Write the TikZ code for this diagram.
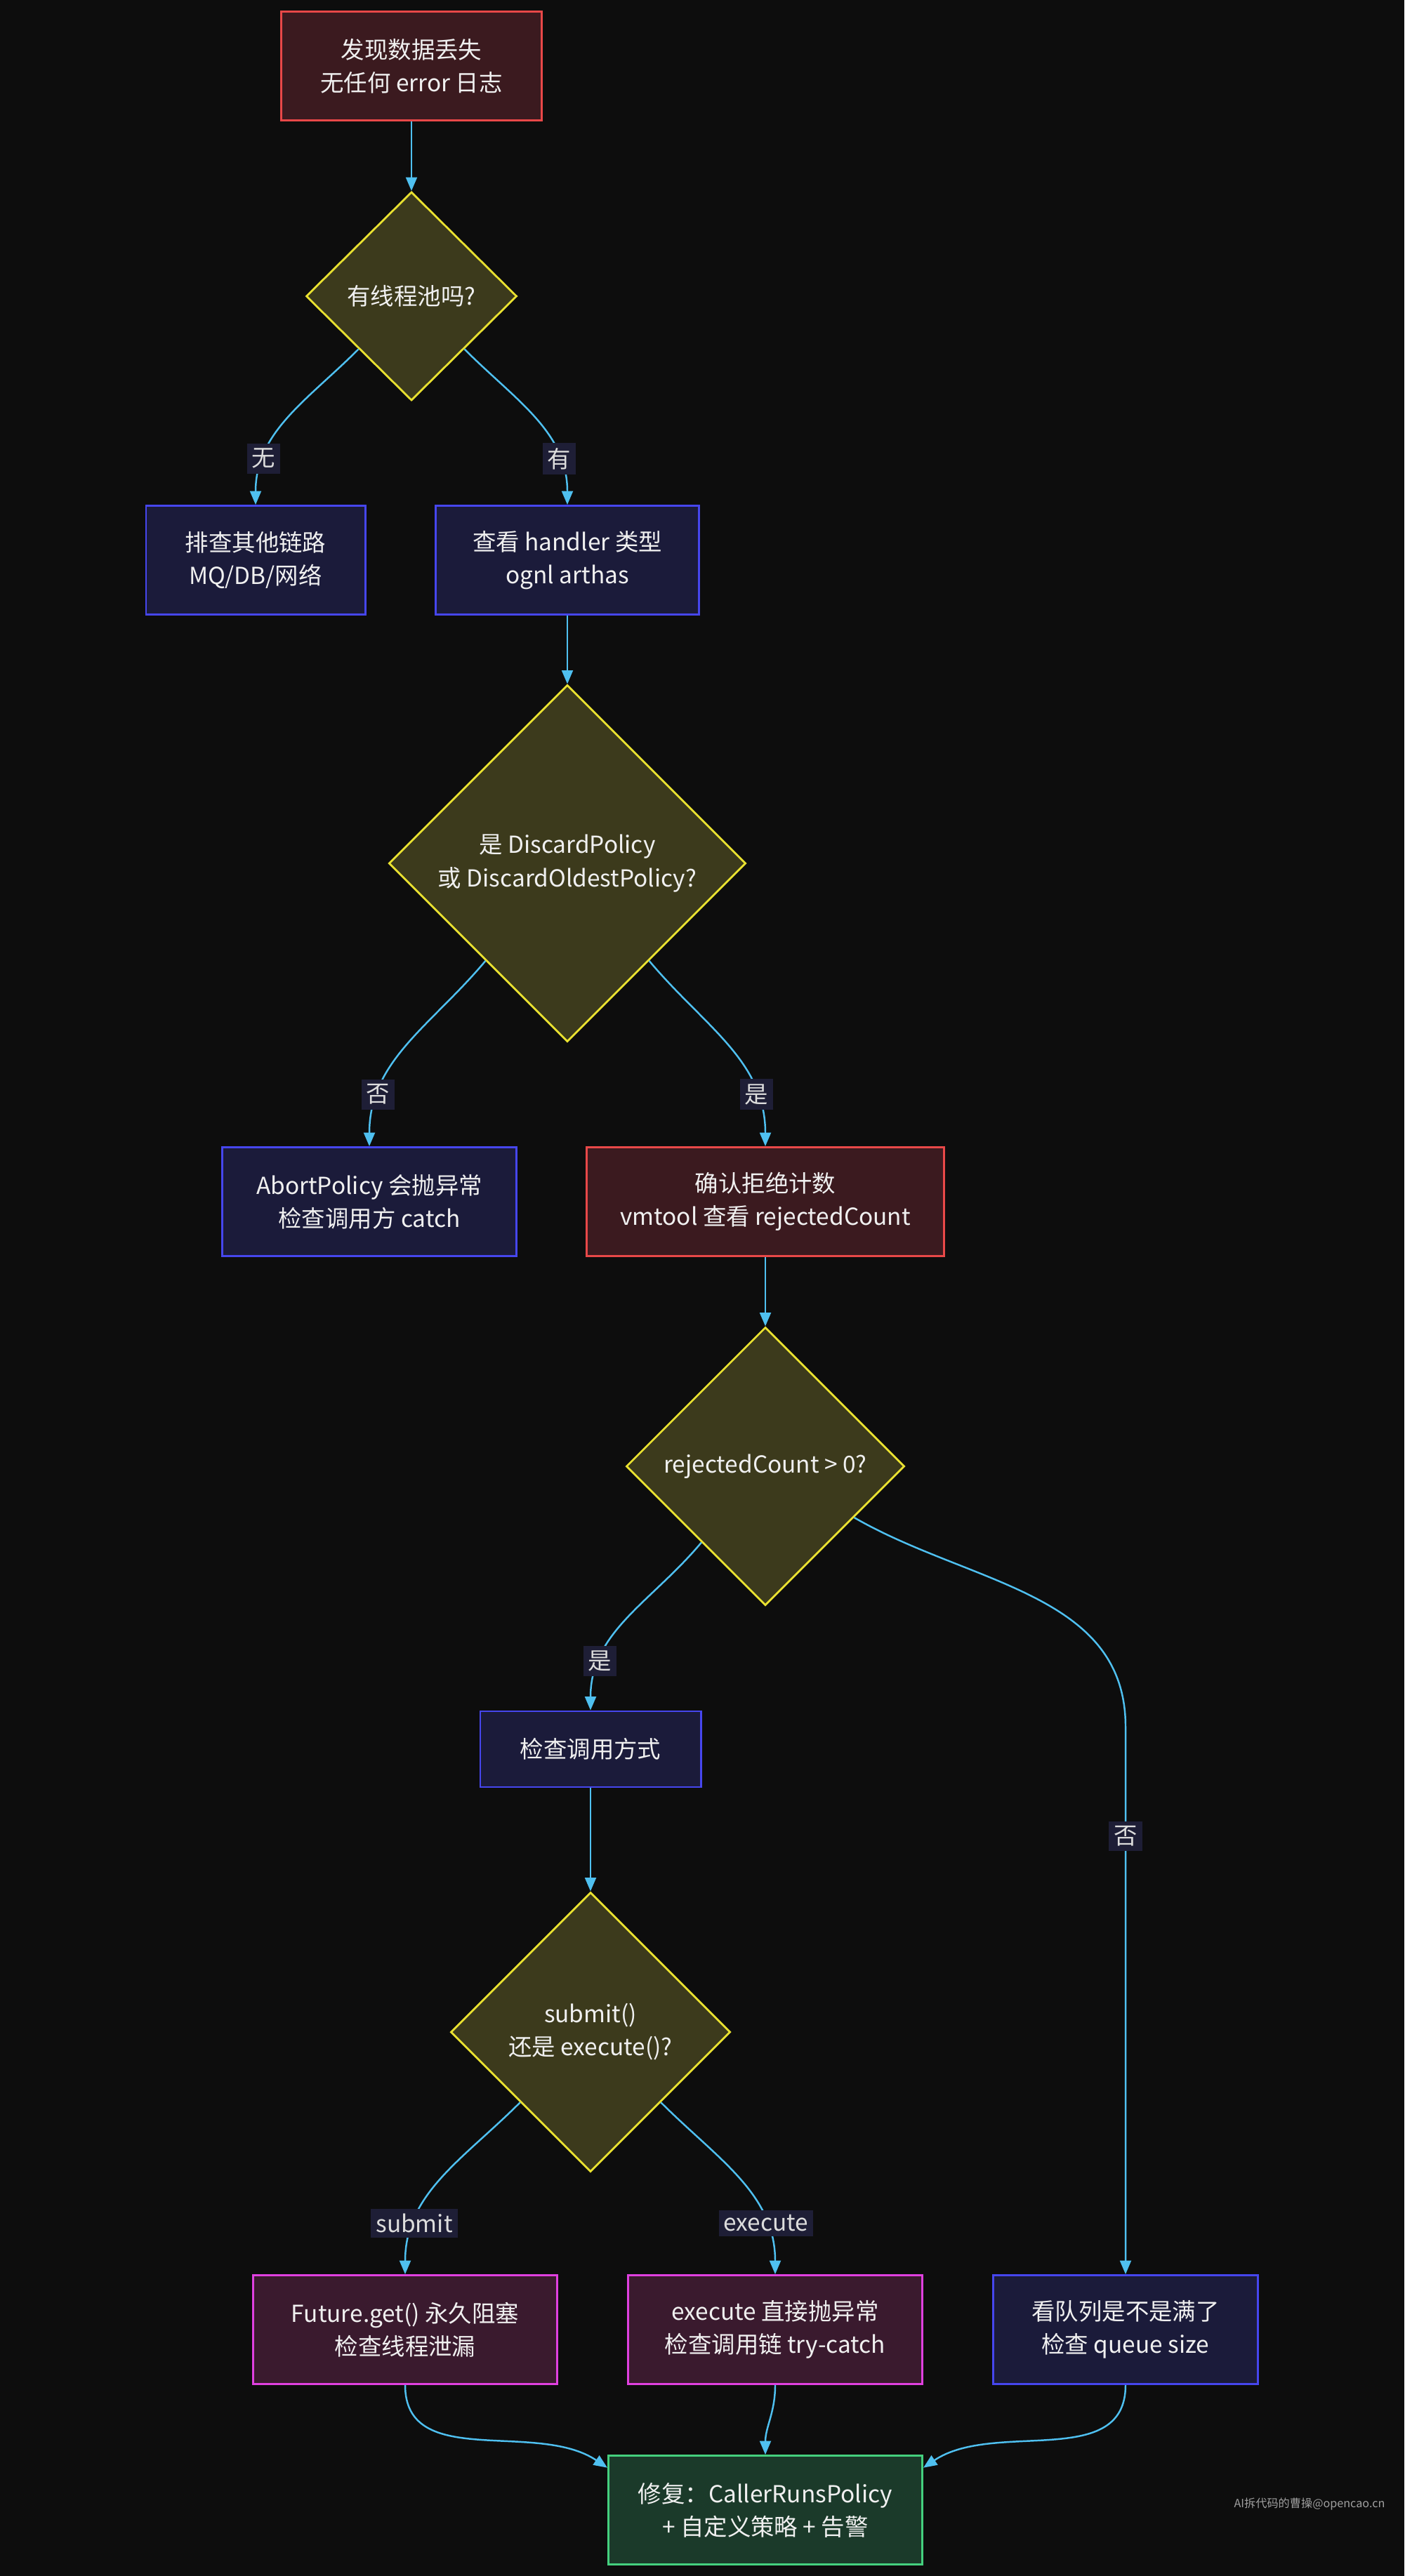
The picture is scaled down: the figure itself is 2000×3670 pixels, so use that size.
\documentclass[tikz,border=0pt]{standalone}
\usepackage{fontspec}
\setmainfont{Noto Sans CJK SC}
\usepackage{xcolor}
\usetikzlibrary{positioning,arrows.meta,shapes.geometric}

\definecolor{bgc}{HTML}{0D0D0D}
\definecolor{txt}{HTML}{F0F0F0}
\definecolor{critline}{HTML}{E84848}
\definecolor{critfill}{HTML}{3B1A1F}
\definecolor{infoline}{HTML}{4646EE}
\definecolor{infofill}{HTML}{1B1B3A}
\definecolor{warnline}{HTML}{E040E0}
\definecolor{warnfill}{HTML}{3A1A2E}
\definecolor{fixline}{HTML}{44D07E}
\definecolor{fixfill}{HTML}{1B3A2A}
\definecolor{decline}{HTML}{E8E030}
\definecolor{decfill}{HTML}{3C3A1C}
\definecolor{linkc}{HTML}{4FC0F0}
\definecolor{labfill}{HTML}{1E1E36}
\definecolor{labtxt}{HTML}{DDDDDD}

\newcommand{\nodefont}{\fontsize{9.5}{13.4}\selectfont}

\begin{document}
\begin{tikzpicture}[x=0.01cm, y=-0.01cm,
  flow/.style={rectangle, line width=0.8pt, text=txt, align=center, font=\nodefont, minimum height=1.55cm},
  crit/.style={flow, draw=critline, fill=critfill},
  info/.style={flow, draw=infoline, fill=infofill},
  warn/.style={flow, draw=warnline, fill=warnfill},
  fix/.style={flow, draw=fixline, fill=fixfill},
  check/.style={diamond, aspect=1, line width=0.8pt, draw=decline, fill=decfill, text=txt, align=center, font=\nodefont, inner sep=1pt},
  link/.style={-{Triangle[length=5.5pt,width=4.5pt]}, line width=0.7pt, draw=linkc},
  elab/.style={fill=labfill, text=labtxt, font=\nodefont, inner sep=2pt},
  wmk/.style={text=gray!75, font=\fontsize{4.6}{5}\selectfont}
]
  \fill[bgc] (0,0) rectangle (2000,3670);

  \node[crit, minimum width=3.71cm] (start) at (586,94) {发现数据丢失\\无任何 error 日志};
  \node[check, minimum width=3cm, minimum height=2.97cm] (hasPool) at (586,422) {有线程池吗?};

  \node[info, minimum width=3.12cm] (otherPath) at (364,798) {排查其他链路\\MQ/DB/网络};
  \node[info, minimum width=3.74cm] (handlerType) at (808,798) {查看 handler 类型\\ognl arthas};
  \node[check, minimum width=5.08cm, minimum height=5.08cm] (isDiscard) at (808,1230) {是 DiscardPolicy\\或 DiscardOldestPolicy?};

  \node[info, minimum width=4.19cm] (abortCase) at (526,1712) {AbortPolicy 会抛异常\\检查调用方 catch};
  \node[crit, minimum width=5.08cm] (countCheck) at (1090,1712) {确认拒绝计数\\vmtool 查看 rejectedCount};
  \node[check, minimum width=3.96cm, minimum height=3.96cm] (countPos) at (1090,2089) {rejectedCount > 0?};

  \node[info, minimum width=3.14cm, minimum height=1.08cm] (callMode) at (841,2492) {检查调用方式};
  \node[check, minimum width=3.98cm, minimum height=3.98cm] (submitOrExec) at (841,2895) {submit()\\还是 execute()?};

  \node[warn, minimum width=4.33cm] (futureGet) at (577,3319) {Future.get() 永久阻塞\\检查线程泄漏};
  \node[warn, minimum width=4.19cm] (execThrow) at (1104,3319) {execute 直接抛异常\\检查调用链 try-catch};
  \node[info, minimum width=3.77cm] (queueFull) at (1603,3319) {看队列是不是满了\\检查 queue size};
  \node[fix, minimum width=4.47cm] (fixIt) at (1090,3576) {修复：CallerRunsPolicy\\+ 自定义策略 + 告警};

  \node[wmk] (wm) at (1865,3567) {AI拆代码的曹操@opencao.cn};

  \coordinate (queueBend) at (1603,2460);

  \draw[link] (start) -- (hasPool);
  \draw[link] (hasPool) to[out=-135,in=90] node[elab, pos=0.76] {无} (otherPath);
  \draw[link] (hasPool) to[out=-45,in=90] node[elab, pos=0.76] {有} (handlerType);
  \draw[link] (handlerType) -- (isDiscard);
  \draw[link] (isDiscard) to[out=-130,in=90] node[elab, pos=0.77] {否} (abortCase);
  \draw[link] (isDiscard) to[out=-50,in=90] node[elab, pos=0.77] {是} (countCheck);
  \draw[link] (countCheck) -- (countPos);
  \draw[link] (countPos) to[out=-130,in=90] node[elab, pos=0.76] {是} (callMode);
  \draw[link] (countPos) to[out=-30,in=90] (queueBend) -- node[elab, pos=0.2] {否} (queueFull);
  \draw[link] (callMode) -- (submitOrExec);
  \draw[link] (submitOrExec) to[out=-135,in=90] node[elab, pos=0.76] {submit} (futureGet);
  \draw[link] (submitOrExec) to[out=-45,in=90] node[elab, pos=0.76] {execute} (execThrow);
  \draw[link] (futureGet) to[out=-90,in=146] (fixIt.165);
  \draw[link] (execThrow) to[out=-90,in=90] (fixIt);
  \draw[link] (queueFull) to[out=-90,in=34] (fixIt.15);
\end{tikzpicture}
\end{document}
